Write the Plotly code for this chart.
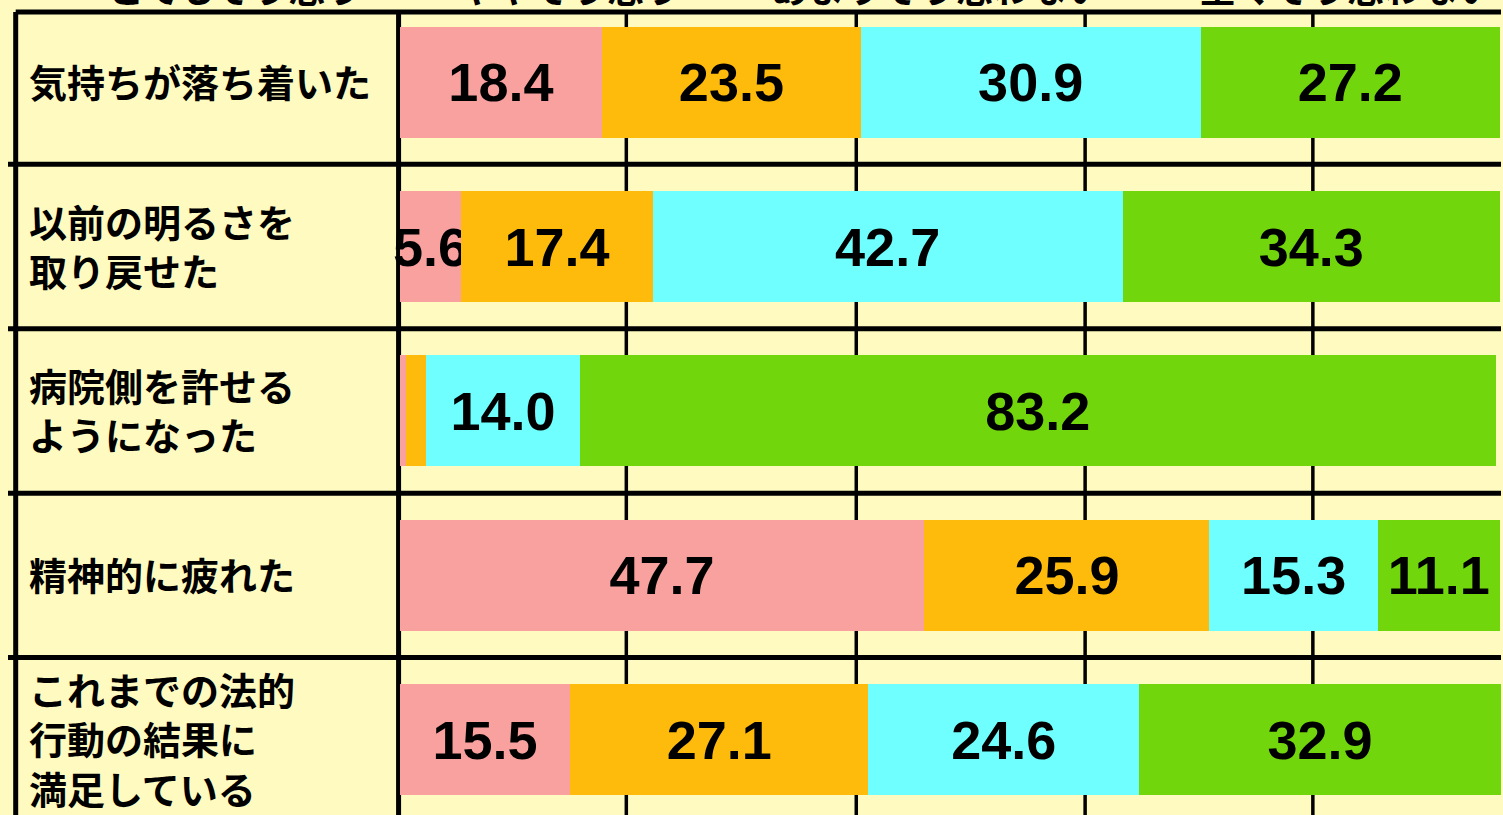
import plotly.graph_objects as go

# ---- data ----
categories = [
    "気持ちが落ち着いた",
    "以前の明るさを<br>取り戻せた",
    "病院側を許せる<br>ようになった",
    "精神的に疲れた",
    "これまでの法的<br>行動の結果に<br>満足している",
]
series_names = ["とてもそう思う", "ややそう思う", "あまりそう思わない", "全くそう思わない"]
strongly_agree = [18.4, 5.6, 0.6, 47.7, 15.5]
somewhat_agree = [23.5, 17.4, 1.8, 25.9, 27.1]
not_much = [30.9, 42.7, 14.0, 15.3, 24.6]
not_at_all = [27.2, 34.3, 83.2, 11.1, 32.9]
grid_values = [20.6, 41.5, 62.3, 83.0]

series_values = [strongly_agree, somewhat_agree, not_much, not_at_all]
colors = ["#F9A19F", "#FFBB0B", "#6FFFFF", "#72D60C"]
BG = "#FFFBC0"

LABEL_FONT = "Noto Sans CJK JP"
NUM_FONT = "Liberation Sans"

fig = go.Figure()
for name, vals, col in zip(series_names, series_values, colors):
    fig.add_trace(go.Bar(
        y=categories, x=vals, name=name, orientation="h",
        marker=dict(color=col, line=dict(width=0)),
        width=0.675,
        text=[f"{v:.1f}" if v >= 3 else "" for v in vals],
        textposition="inside", insidetextanchor="middle",
        constraintext="none", textangle=0,
        textfont=dict(family=NUM_FONT, size=54, color="black", weight="bold"),
        hoverinfo="skip",
    ))

# axis geometry
x_lo, x_hi = -35.6, 100.1
y_top, y_bot = -0.499, 4.457
top_line = -0.426

shapes = []
for g in grid_values:
    shapes.append(dict(type="line", xref="x", yref="y", x0=g, x1=g,
                       y0=top_line, y1=y_bot, layer="below",
                       line=dict(color="black", width=3.5)))
# divider between label column and bars (drawn beneath bars & text)
shapes.append(dict(type="line", xref="x", yref="y", x0=-0.1, x1=-0.1,
                   y0=top_line, y1=y_bot, layer="below",
                   line=dict(color="black", width=5)))
for i in range(len(categories) - 1):
    shapes.append(dict(type="line", xref="x", yref="y", x0=x_lo, x1=x_hi,
                       y0=i + 0.5, y1=i + 0.5, layer="above",
                       line=dict(color="black", width=5)))
shapes.append(dict(type="line", xref="x", yref="y", x0=-34.9, x1=x_hi,
                   y0=top_line, y1=top_line, layer="above",
                   line=dict(color="black", width=5)))
shapes.append(dict(type="line", xref="x", yref="y", x0=-34.9, x1=-34.9,
                   y0=top_line, y1=y_bot, layer="above",
                   line=dict(color="black", width=5)))

annotations = []
for i, c in enumerate(categories):
    annotations.append(dict(
        x=-33.9, y=i - 0.01, xref="x", yref="y",
        text=c, showarrow=False,
        xanchor="left", yanchor="middle", align="left",
        font=dict(family=LABEL_FONT, size=38, color="black", weight="bold"),
    ))
legend_x = [-26.8, 5.2, 33.6, 72.5]
for name, lx in zip(series_names, legend_x):
    annotations.append(dict(
        x=lx, y=-0.40, xref="x", yref="y", text=name, showarrow=False,
        xanchor="left", yanchor="bottom",
        font=dict(family=LABEL_FONT, size=37, color="black", weight="bold"),
    ))

fig.update_layout(
    barmode="stack",
    width=1503, height=815, autosize=False,
    margin=dict(l=8, r=2, t=0, b=0, pad=0),
    paper_bgcolor=BG, plot_bgcolor=BG,
    showlegend=False,
    xaxis=dict(range=[x_lo, x_hi], showgrid=False, zeroline=False,
               showticklabels=False, showline=False, ticks=""),
    yaxis=dict(range=[y_bot, y_top], showgrid=False, zeroline=False,
               showticklabels=False, showline=False, ticks="",
               type="category"),
    shapes=shapes,
    annotations=annotations,
)

fig.write_html(
    "out.html",
    config={"displayModeBar": False},
    post_script="document.body.style.margin='0';document.body.style.overflow='hidden';",
)
